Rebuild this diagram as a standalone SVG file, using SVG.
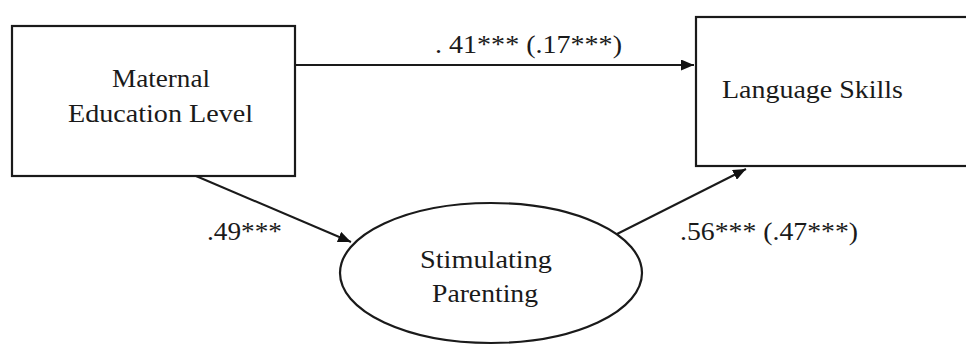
<svg xmlns="http://www.w3.org/2000/svg" width="966" height="345" viewBox="0 0 966 345">
<defs>
<marker id="ah" viewBox="0 0 13 11" refX="13" refY="5.5" markerWidth="13" markerHeight="11" markerUnits="userSpaceOnUse" orient="auto">
<path d="M0,0 L13,5.5 L0,11 Z" fill="#111"/>
</marker>
<style>
.box{fill:#fff;stroke:#1a1a1a;stroke-width:2.2}
.t{font-family:'Liberation Serif','Times New Roman',Tinos,'DejaVu Serif',serif;font-size:26px;fill:#1a1a1a}
.c{stroke:#1a1a1a;stroke-width:2;fill:none;marker-end:url(#ah)}
</style>
</defs>
<rect width="966" height="345" fill="#fff"/>
<g id="connectors">
<line class="c" x1="295" y1="65" x2="694" y2="65"/>
<line class="c" x1="196" y1="176" x2="351" y2="242"/>
<line class="c" x1="615" y1="235" x2="746" y2="169"/>
</g>
<g id="labels">
<text class="t" x="435" y="53" textLength="187" lengthAdjust="spacingAndGlyphs">. 41*** (.17***)</text>
<text class="t" x="207" y="240" textLength="75" lengthAdjust="spacingAndGlyphs">.49***</text>
<text class="t" x="680" y="240" textLength="178" lengthAdjust="spacingAndGlyphs">.56*** (.47***)</text>
</g>
<g id="maternal">
<rect class="box" x="12" y="26" width="283" height="150"/>
<text class="t" x="112" y="87" textLength="98" lengthAdjust="spacingAndGlyphs">Maternal</text>
<text class="t" x="68" y="122" textLength="185" lengthAdjust="spacingAndGlyphs">Education Level</text>
</g>
<g id="language">
<rect class="box" x="696" y="17" width="280" height="149"/>
<text class="t" x="722" y="98" textLength="181" lengthAdjust="spacingAndGlyphs">Language Skills</text>
</g>
<g id="parenting">
<ellipse class="box" cx="491" cy="273" rx="151" ry="70" stroke-width="1.8"/>
<text class="t" x="420" y="268" textLength="132" lengthAdjust="spacingAndGlyphs">Stimulating</text>
<text class="t" x="432" y="302" textLength="106" lengthAdjust="spacingAndGlyphs">Parenting</text>
</g>
</svg>
